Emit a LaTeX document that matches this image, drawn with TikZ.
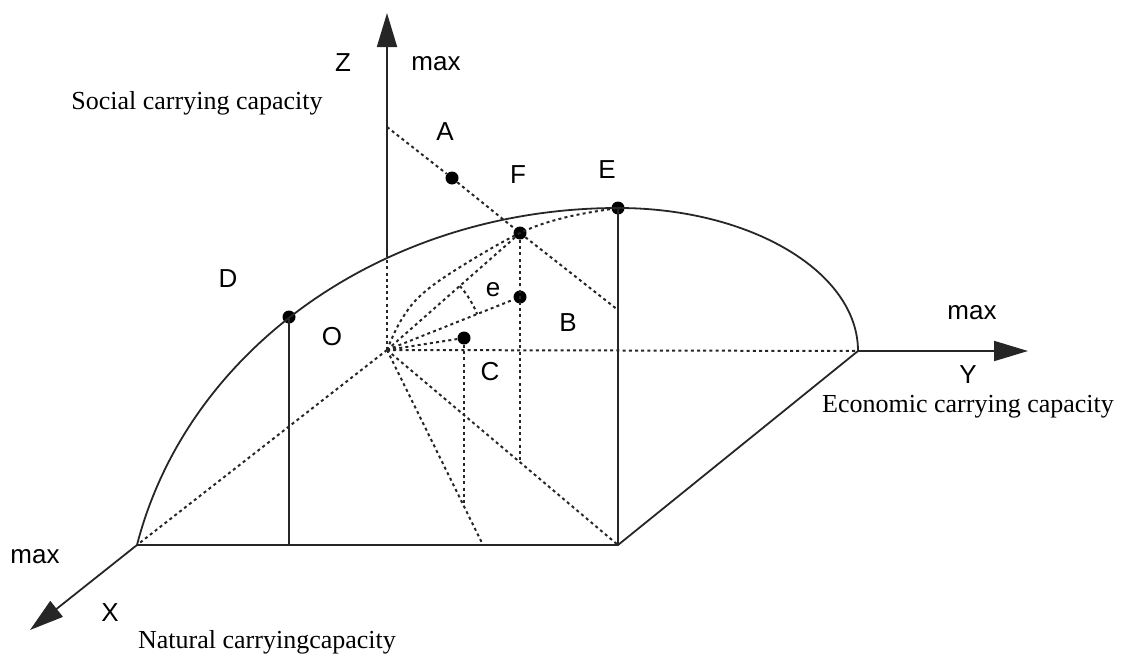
\documentclass[tikz,border=0pt]{standalone}
\usepackage{fontspec}
\setmainfont{Liberation Serif}
\setsansfont{Liberation Sans}
\usetikzlibrary{calc, arrows.meta}

\begin{document}
\begin{tikzpicture}[>={Triangle[length=17pt,width=10pt]}, x=0.5pt, y=0.5pt,
  axis/.style={line width=0.9pt, black!85},
  guide/.style={line width=1pt, black!85, dash pattern=on 1.5pt off 1.6pt},
  dot/.style={circle, fill=black, inner sep=0pt, minimum size=6.5pt},
  letter/.style={font=\sffamily\fontsize{13}{15}\selectfont, inner sep=0pt},
  caption/.style={font=\fontsize{13}{15}\selectfont, inner sep=0pt}]
  \useasboundingbox (0,0) rectangle (1123,-653);
  % origin, axis ends and base corners
  \coordinate (O) at (387,-350);
  \coordinate (Ztip) at (387,-13);
  \coordinate (Zcut) at (387,-257);
  \coordinate (Zs) at (387,-127);
  \coordinate (Xend) at (137,-545);
  \coordinate (Xtip) at (30,-630);
  \coordinate (Yend) at (858,-351);
  \coordinate (Ytip) at (1028,-351);
  \coordinate (Bc) at (618,-545);
  \coordinate (Dfoot) at (289,-545);
  \coordinate (G) at (483,-545);
  \coordinate (Ef) at (618,-310);
  \coordinate (Ff) at (520,-462);
  \coordinate (Cf) at (464,-506);
  % points
  \node[dot] (D) at (289,-317) {};
  \node[dot] (E) at (618,-208) {};
  \node[dot] (A) at (452,-178) {};
  \node[dot] (F) at (520,-233) {};
  \node[dot] (e) at (520,-297) {};
  \node[dot] (C) at (464,-338) {};
  % axes
  \draw[axis, ->] (Zcut) -- (Ztip);
  \draw[axis, ->] (Yend) -- (Ytip);
  \draw[axis, ->] (Xend) -- (Xtip);
  \draw[guide] (O) -- (Zcut);
  \draw[guide] (O) -- (Yend);
  \draw[guide] (O) -- (Xend);
  % outer surface
  \draw[axis] (Xend) -- (Bc) -- (Yend);
  \draw[axis] (D.center) -- (Dfoot);
  \draw[axis] (E.center) -- (Bc);
  \draw[axis] (E.center) .. controls (387,-208) and (188,-347) .. (Xend);
  \draw[axis] (E.center) arc[start angle=90, end angle=0, x radius=240, y radius=143];
  % inner guides
  \draw[guide] (Zs) -- (A) -- (F) -- (Ef);
  \draw[guide] plot[smooth, tension=0.6] coordinates {(387,-350) (400,-322) (420,-296)
    (457,-269) (520,-233) (567,-217) (618,-208)};
  \draw[guide] (O) -- (F);
  \draw[guide] (O) -- (e);
  \draw[guide] (O) -- (C);
  \draw[guide] (O) -- (G);
  \draw[guide] (O) -- (Bc);
  \draw[guide] (F) -- (Ff);
  \draw[guide] (C) -- (Cf);
  \draw[guide] ($(O)+(41.3:97)$) arc[start angle=41.3, end angle=21.7, radius=97];
  % labels
  \node[letter] (zlab) at (343,-63) {Z};
  \node[letter] (zmax) at (436,-64) {max};
  \node[caption] (soc) at (197,-103) {Social carrying capacity};
  \node[letter] (alab) at (445,-132) {A};
  \node[letter] (flab) at (518,-175) {F};
  \node[letter] (elab) at (607,-170) {E};
  \node[letter] (dlab) at (228,-279) {D};
  \node[letter] (olab) at (332,-337) {O};
  \node[letter] (elab2) at (493,-290) {e};
  \node[letter] (blab) at (568,-323) {B};
  \node[letter] (clab) at (490,-372) {C};
  \node[letter] (ymax) at (972,-313) {max};
  \node[letter] (ylab) at (968,-375) {Y};
  \node[caption] (eco) at (968,-407) {Economic carrying capacity};
  \node[letter] (xmax) at (35,-557) {max};
  \node[letter] (xlab) at (110,-613) {X};
  \node[caption] (nat) at (267,-642) {Natural carryingcapacity};
\end{tikzpicture}
\end{document}
